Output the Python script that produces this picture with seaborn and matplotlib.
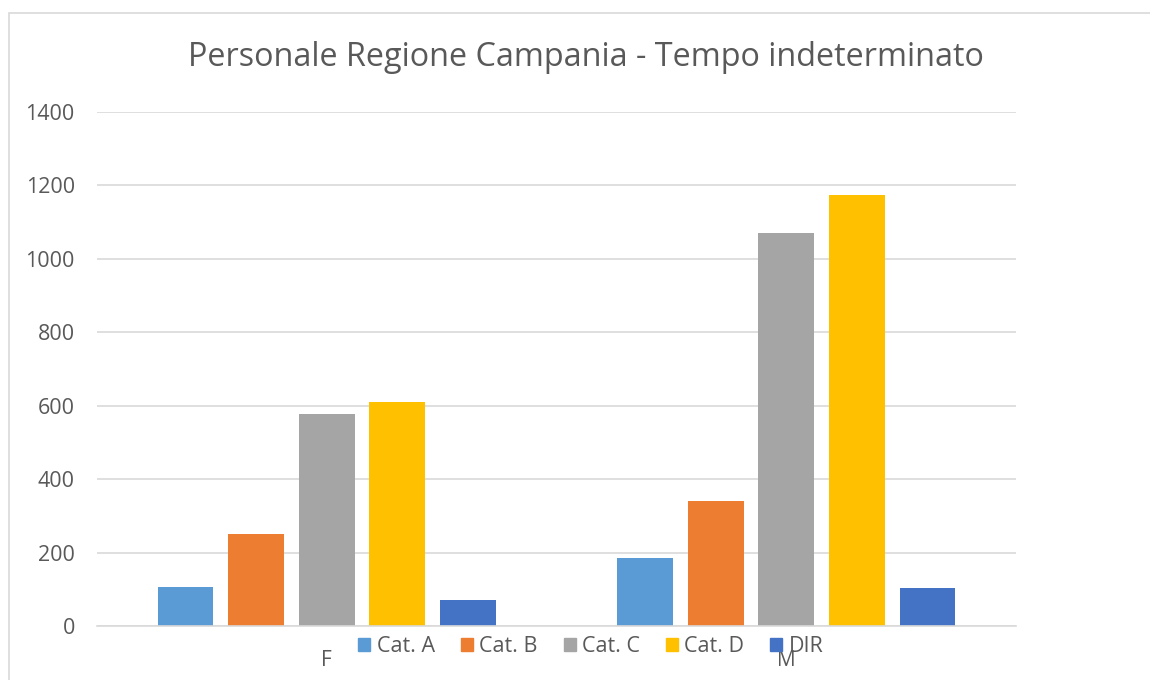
import pandas as pd
import matplotlib.pyplot as plt
import matplotlib.patches as mpatches
import seaborn as sns

genders = ["F", "M"]
categories = ["Cat. A", "Cat. B", "Cat. C", "Cat. D", "DIR"]
values_f = [106, 251, 577, 610, 71]
values_m = [185, 340, 1071, 1174, 103]
colors = ["#5b9bd5", "#ed7d31", "#a5a5a5", "#ffc000", "#4472c4"]

df = pd.DataFrame({
    "sesso": [genders[0]] * len(categories) + [genders[1]] * len(categories),
    "categoria": categories * 2,
    "valore": values_f + values_m,
})

sns.set_theme(style="white")
plt.rcParams["font.family"] = ["Open Sans", "DejaVu Sans"]
TXT = "#595959"

fig = plt.figure(figsize=(11.5, 6.8), dpi=100)
ax = fig.add_axes([97 / 1150, 1 - 626 / 680, (1016 - 97) / 1150, (626 - 112) / 680])

# chart area border (Excel style)
fig.patches.append(mpatches.Rectangle((9 / 1150, -0.1), 1.2, 1 - 13 / 680 + 0.1,
                                      transform=fig.transFigure, fill=False,
                                      edgecolor="#d9d9d9", linewidth=1.2))

sns.barplot(data=df, x="sesso", y="valore", hue="categoria", order=genders,
            hue_order=categories, palette=colors, width=0.768, gap=0.21,
            saturation=1, ax=ax, legend=False, edgecolor="none")

ax.set_ylim(0, 1400)
ax.set_xlim(-0.5, 1.5)
ax.set_yticks(range(0, 1401, 200))
ax.yaxis.grid(True, color="#d9d9d9", linewidth=1.2)
ax.set_axisbelow(True)
for s in ["top", "right", "left"]:
    ax.spines[s].set_visible(False)
ax.spines["bottom"].set_color("#d9d9d9")
ax.spines["bottom"].set_linewidth(1.2)
ax.tick_params(axis="y", length=0, pad=16, labelsize=15.5, labelcolor=TXT)
ax.tick_params(axis="x", length=0, pad=17, labelsize=15, labelcolor=TXT)
ax.set_xlabel("")
ax.set_ylabel("")

fig.text(586 / 1150, 1 - 57 / 680, "Personale Regione Campania - Tempo indeterminato",
         ha="center", va="center", fontsize=23.3, color=TXT)

# legend sits on top of the x labels, as in the original Excel chart
handles = [mpatches.Patch(color=c, label=l) for c, l in zip(colors, categories)]
fig.legend(handles=handles, loc="center", bbox_to_anchor=(591 / 1150, 1 - 647 / 680),
           ncol=5, frameon=False, fontsize=15.5, labelcolor=TXT, handlelength=0.56,
           handleheight=0.56, handletextpad=0.3, columnspacing=1.2)

fig.savefig("out.png", dpi=100)
